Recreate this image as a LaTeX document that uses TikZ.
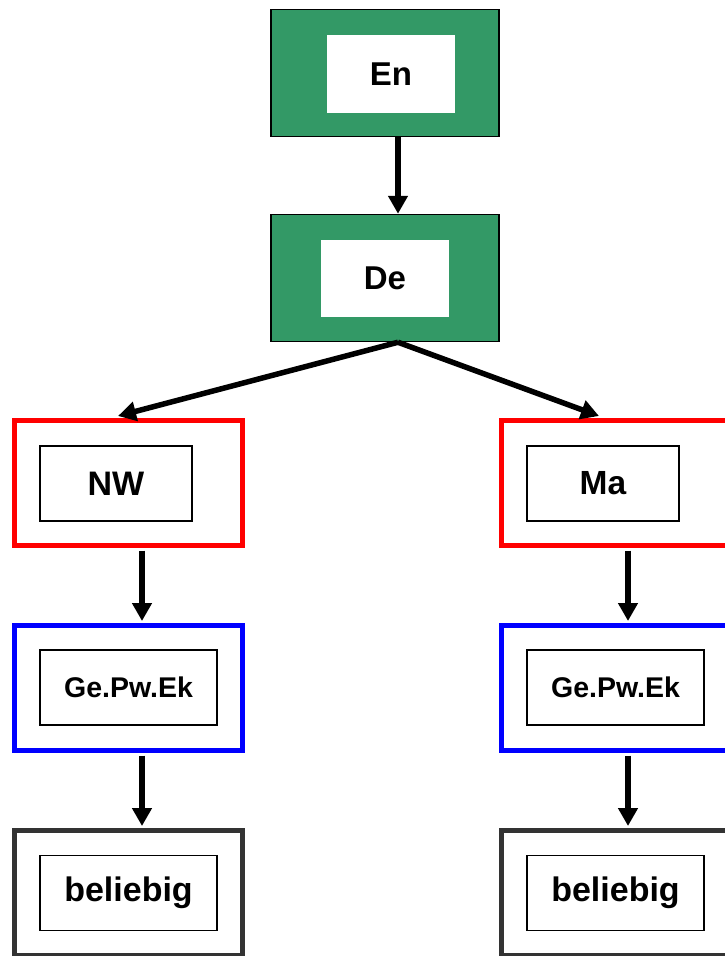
\documentclass[tikz,border=0pt]{standalone}
\usepackage{fontspec}
\setmainfont{Liberation Sans}
\usetikzlibrary{arrows.meta}
\definecolor{boxgreen}{RGB}{51,153,102}
\definecolor{boxgray}{RGB}{51,51,51}
\tikzset{
	gbox/.style={rectangle,draw=black,fill=boxgreen,line width=1.5pt,minimum width=228pt,minimum height=127pt,inner sep=0pt},
	obox/.style={rectangle,draw=#1,line width=5pt,minimum width=228pt,minimum height=125pt,inner sep=0pt},
	wbox/.style={rectangle,fill=white,minimum width=128pt,minimum height=78pt,inner sep=0pt,font=\fontsize{33}{38}\selectfont\bfseries},
	ibox/.style 2 args={rectangle,draw=black,fill=white,line width=1.5pt,minimum width=#1,minimum height=75pt,inner sep=0pt,font=\fontsize{#2}{#2}\selectfont\bfseries},
	flow/.style={-{Triangle[length=18pt,width=19pt]},line width=5.5pt}
}
\begin{document}
\begin{tikzpicture}[x=1pt,y=-1pt]
	\clip (0,0) rectangle (725,956);
	\fill[white] (0,0) rectangle (725,956);

	% top
	\node [gbox] (En) at (385,73) {};
	\node [wbox] (En-t) at (391,74) {En};
	\node [gbox] (De) at (385,278) {};
	\node [wbox,minimum height=77pt] (De-t) at (385,278.5) {De};

	% left column
	\node [obox=red] (NW) at (128.5,483) {};
	\node [ibox={152pt}{34}] (NW-t) at (116,483.5) {NW};
	\node [obox=blue] (GeL) at (128.5,688) {};
	\node [ibox={177pt}{28.5}] (GeL-t) at (128.5,687.5) {Ge.Pw.Ek};
	\node [obox=boxgray] (beL) at (128.5,893) {};
	\node [ibox={177pt}{34}] (beL-t) at (128.5,893) {beliebig};

	% right column
	\node [obox=red] (Ma) at (615.5,483) {};
	\node [ibox={152pt}{33.5}] (Ma-t) at (603,483.5) {Ma};
	\node [obox=blue] (GeR) at (615.5,688) {};
	\node [ibox={177pt}{28.5}] (GeR-t) at (615.5,687.5) {Ge.Pw.Ek};
	\node [obox=boxgray] (beR) at (615.5,893) {};
	\node [ibox={177pt}{34}] (beR-t) at (615.5,893) {beliebig};

	\draw [flow] ([xshift=13pt]En.south) -- ([xshift=13pt]De.north);
	\draw [flow] ([xshift=13pt]De.south) -- ([xshift=-10.5pt,yshift=2pt]NW.north);
	\draw [flow] ([xshift=13pt]De.south) -- ([xshift=-16.5pt,yshift=2pt]Ma.north);
	\draw [flow] ([xshift=13.5pt,yshift=-2.5pt]NW.south) -- ([xshift=13.5pt,yshift=2pt]GeL.north);
	\draw [flow] ([xshift=13.5pt,yshift=-2.5pt]GeL.south) -- ([xshift=13.5pt,yshift=2pt]beL.north);
	\draw [flow] ([xshift=12.5pt,yshift=-2.5pt]Ma.south) -- ([xshift=12.5pt,yshift=2pt]GeR.north);
	\draw [flow] ([xshift=12.5pt,yshift=-2.5pt]GeR.south) -- ([xshift=12.5pt,yshift=2pt]beR.north);
\end{tikzpicture}
\end{document}
